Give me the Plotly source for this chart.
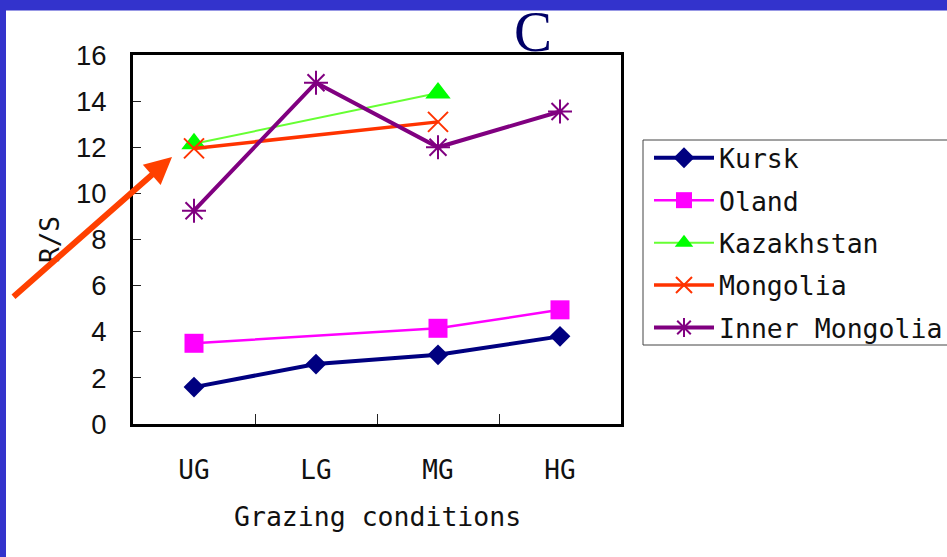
import plotly.graph_objects as go

categories = ["UG", "LG", "MG", "HG"]
kursk = [1.6, 2.6, 3.0, 3.8]
oland = [3.5, None, 4.15, 4.95]
kazakhstan = [12.15, None, 14.35, None]
mongolia = [11.95, None, 13.1, None]
inner_mongolia = [9.25, 14.8, 12.0, 13.55]
y_ticks = [0, 2, 4, 6, 8, 10, 12, 14, 16]

W, H = 947, 557
L, R, T, B = 133, 326, 55, 133
PW, PH = W - L - R, H - T - B

def px_x(p):
    return (p - L) / PW

def px_y(p):
    return (H - B - p) / PH

mono = "DejaVu Sans Mono"

fig = go.Figure()
fig.add_trace(go.Scatter(x=categories, y=kursk, name="Kursk", mode="lines+markers",
                         line=dict(color="#000080", width=4),
                         marker=dict(symbol="diamond", size=16, color="#000080"),
                         legendgroup="a"))
fig.add_trace(go.Scatter(x=categories, y=oland, name="Oland", mode="lines+markers",
                         connectgaps=True, line=dict(color="#FF00FF", width=2.5),
                         marker=dict(symbol="square", size=19, color="#FF00FF"),
                         legendgroup="b"))
fig.add_trace(go.Scatter(x=categories, y=kazakhstan, name="Kazakhstan", mode="lines+markers",
                         connectgaps=True, line=dict(color="#66FF33", width=2),
                         marker=dict(symbol="triangle-up", size=22, color="#00FF00"),
                         legendgroup="c"))
fig.add_trace(go.Scatter(x=categories, y=mongolia, name="Mongolia", mode="lines+markers",
                         connectgaps=True, line=dict(color="#FF3300", width=3.5),
                         marker=dict(symbol="x-thin-open", size=20,
                                     line=dict(color="#FF0000", width=2)),
                         legendgroup="d"))
fig.add_trace(go.Scatter(x=categories, y=inner_mongolia, name="Inner Mongolia", mode="lines+markers",
                         line=dict(color="#800080", width=4),
                         marker=dict(symbol="asterisk-open", size=20,
                                     line=dict(color="#800080", width=2)),
                         legendgroup="e"))

# blue frame bands (top and left)
fig.add_shape(type="rect", xref="paper", yref="paper",
              x0=px_x(-5), x1=px_x(W + 5), y0=px_y(10.5), y1=px_y(-5),
              fillcolor="#3333CC", line=dict(width=0), layer="above")
fig.add_shape(type="rect", xref="paper", yref="paper",
              x0=px_x(-5), x1=px_x(6), y0=px_y(H + 5), y1=px_y(-5),
              fillcolor="#3333CC", line=dict(width=0), layer="above")
# legend frame
fig.add_shape(type="rect", xref="paper", yref="paper",
              x0=px_x(643), x1=px_x(960), y0=px_y(345), y1=px_y(140),
              fillcolor="white", line=dict(width=1, color="#444"), layer="below")

# title C
fig.add_annotation(text="C", xref="paper", yref="paper", x=px_x(533), y=px_y(32),
                   showarrow=False, font=dict(family="Liberation Serif", size=57, color="#000066"),
                   xanchor="center", yanchor="middle")
# axis titles
fig.add_annotation(text="Grazing conditions", xref="paper", yref="paper",
                   x=px_x(377), y=px_y(516), showarrow=False,
                   font=dict(family=mono, size=26.5, color="#111"),
                   xanchor="center", yanchor="middle")
fig.add_annotation(text="R/S", xref="paper", yref="paper",
                   x=px_x(50), y=px_y(240), showarrow=False, textangle=-90,
                   font=dict(family=mono, size=26, color="#111"),
                   xanchor="center", yanchor="middle")
# red arrow
fig.add_annotation(text="", xref="paper", yref="paper", x=px_x(172), y=px_y(157),
                   ax=12 - 172, ay=298 - 157, showarrow=True, arrowhead=2,
                   arrowsize=0.9, arrowwidth=6, arrowcolor="#FF4000")

fig.update_xaxes(type="category", categoryorder="array", categoryarray=categories,
                 range=[-0.5, 3.5], showline=True, linewidth=3, linecolor="black", mirror=True,
                 ticks="inside", ticklen=10, tickwidth=1, tickcolor="#222",
                 tickson="boundaries", showgrid=False, zeroline=False,
                 tickfont=dict(family=mono, size=26, color="#111"),
                 ticklabelstandoff=21)
fig.update_yaxes(range=[0, 16], tickvals=y_ticks, showline=True, linewidth=3,
                 linecolor="black", mirror=True, ticks="inside", ticklen=8, tickwidth=1,
                 tickcolor="#222", showgrid=False, zeroline=False,
                 tickfont=dict(family="Liberation Sans", size=27.5, color="#111"),
                 ticklabelstandoff=18)

fig.update_layout(width=W, height=H, margin=dict(l=L, r=R, t=T, b=B, autoexpand=False),
                  paper_bgcolor="white", plot_bgcolor="white",
                  legend=dict(x=px_x(649), y=px_y(134), xanchor="left", yanchor="top",
                              borderwidth=0, bgcolor="rgba(0,0,0,0)",
                              font=dict(family=mono, size=26.5, color="#111"),
                              tracegroupgap=5, itemwidth=60),
                  showlegend=True)

fig.write_html("out.html")
